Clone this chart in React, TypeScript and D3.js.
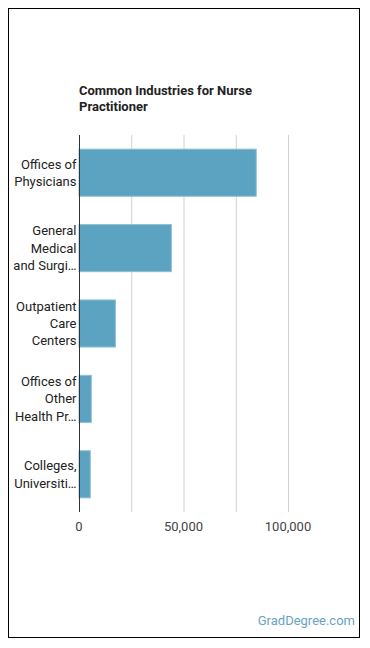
import React, { useEffect, useRef } from 'react';
import * as d3 from 'd3';

const industries: string[][] = [
  ['Offices of', 'Physicians'],
  ['General', 'Medical', 'and Surgi…'],
  ['Outpatient', 'Care', 'Centers'],
  ['Offices of', 'Other', 'Health Pr…'],
  ['Colleges,', 'Universiti…'],
];
const employment: number[] = [84800, 44200, 17400, 5900, 5400];
const tickValues: number[] = [0, 50000, 100000];
const gridValues: number[] = [25000, 50000, 75000, 100000];

const title = ['Common Industries for Nurse', 'Practitioner'];

export default function App() {
  const svgRef = useRef<SVGSVGElement>(null);

  useEffect(() => {
    if (!svgRef.current) return;
    const svg = d3.select(svgRef.current);
    svg.selectAll('*').remove();

    const W = 352;
    const H = 630;
    const font = 'Roboto, Arial, sans-serif';

    // outer frame
    svg.append('rect')
      .attr('x', 0.5).attr('y', 0.5)
      .attr('width', W - 1).attr('height', H - 1)
      .attr('fill', '#fff')
      .attr('stroke', '#000')
      .attr('stroke-width', 1);

    const left = 71;
    const top = 127;
    const plotH = 377;

    const keys = industries.map((_, i) => String(i));
    const y = d3.scaleBand()
      .domain(keys)
      .range([top, top + plotH])
      .paddingInner(0.375)
      .paddingOuter(0.1875);

    const x = d3.scaleLinear()
      .domain([0, 120000])
      .range([left, left + 250.8]);

    // title
    svg.append('text')
      .attr('x', left)
      .attr('font-family', font)
      .attr('font-size', 13)
      .attr('font-weight', 'bold')
      .attr('fill', '#222')
      .selectAll('tspan')
      .data(title)
      .enter().append('tspan')
      .attr('x', left)
      .attr('y', (_, i) => 86.5 + i * 16.7)
      .text(d => d);

    // gridlines
    svg.append('g')
      .selectAll('line')
      .data(gridValues)
      .enter().append('line')
      .attr('x1', d => x(d) + 0.5)
      .attr('x2', d => x(d) + 0.5)
      .attr('y1', top)
      .attr('y2', top + plotH)
      .attr('stroke', '#d0d0d0')
      .attr('stroke-width', 1);

    // bars
    svg.append('g')
      .selectAll('rect')
      .data(employment)
      .enter().append('rect')
      .attr('x', x(0))
      .attr('y', (_, i) => y(String(i)) as number)
      .attr('width', d => x(d) - x(0))
      .attr('height', y.bandwidth())
      .attr('fill', '#5ba3c1')
      .attr('stroke', '#8ec0d5')
      .attr('stroke-width', 1);

    // baseline
    svg.append('line')
      .attr('x1', x(0) + 0.5)
      .attr('x2', x(0) + 0.5)
      .attr('y1', top)
      .attr('y2', top + plotH)
      .attr('stroke', '#333')
      .attr('stroke-width', 1);

    // category labels
    const lineH = 17.3;
    svg.append('g')
      .selectAll('text')
      .data(industries)
      .enter().append('text')
      .attr('text-anchor', 'end')
      .attr('font-family', font)
      .attr('font-size', 13)
      .attr('fill', '#222')
      .each(function (lines, i) {
        const cy = (y(String(i)) as number) + y.bandwidth() / 2;
        const start = cy - ((lines.length - 1) * lineH) / 2;
        d3.select(this).selectAll('tspan')
          .data(lines)
          .enter().append('tspan')
          .attr('x', left - 2.5)
          .attr('y', (_, j) => start + j * lineH)
          .attr('dy', '0.35em')
          .text(d => d);
      });

    // x tick labels
    svg.append('g')
      .selectAll('text')
      .data(tickValues)
      .enter().append('text')
      .attr('x', d => x(d))
      .attr('y', 523)
      .attr('text-anchor', 'middle')
      .attr('font-family', font)
      .attr('font-size', 13)
      .attr('fill', '#444')
      .text(d => d3.format(',')(d));

    // site mark
    svg.append('text')
      .attr('x', W - 5)
      .attr('y', 617)
      .attr('text-anchor', 'end')
      .attr('font-family', font)
      .attr('font-size', 13)
      .attr('fill', '#6aa3c0')
      .text('GradDegree.com');
  }, []);

  return <svg ref={svgRef} width={352} height={630} style={{ display: 'block' }} />;
}
